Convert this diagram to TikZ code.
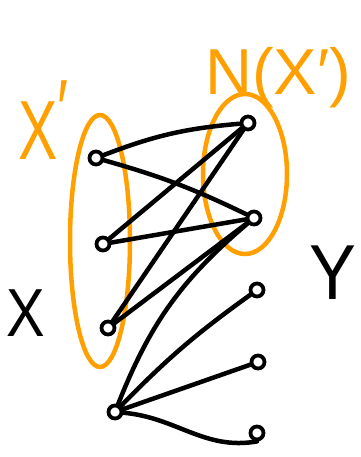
\documentclass[tikz,border=0pt]{standalone}
\usepackage{fontspec}
\setmainfont{Liberation Sans}
\definecolor{hlorange}{RGB}{255,160,0}
\begin{document}
\begin{tikzpicture}[x=1pt,y=-1pt,
  vtx/.style={circle,draw,line width=3.8pt,inner sep=0pt,minimum size=13pt},
  edge/.style={line width=4.5pt,line cap=round},
  grp/.style={draw=hlorange,line width=4.5pt},
  olab/.style={text=hlorange,inner sep=0pt},
  blab/.style={text=black,inner sep=0pt}]
\useasboundingbox (0,0) rectangle (360,457);
% groups
\draw[grp] (100,241) ellipse [x radius=30,y radius=126];
\draw[grp] (245,174) ellipse [x radius=42,y radius=80];
% vertices
\node[vtx] (x1) at (96,158) {};
\node[vtx] (x2) at (103,244) {};
\node[vtx] (x3) at (108,328) {};
\node[vtx] (x4) at (115,412) {};
\node[vtx] (y1) at (248,123) {};
\node[vtx] (y2) at (254,218) {};
\node[vtx] (y3) at (257,290) {};
\node[vtx] (y4) at (258,362) {};
\node[vtx] (y5) at (257,433) {};
% edges
\draw[edge] (x1) to[bend left=8] (y1);
\draw[edge] (x1) to[bend left=5] (y2);
\draw[edge] (x2) -- (y1);
\draw[edge] (x2) -- (y2);
\draw[edge] (x3) -- (y1);
\draw[edge] (x3) -- (y2);
\draw[edge] (x4) to[bend left=14] (y2);
\draw[edge] (x4) to[bend left=5] (y3);
\draw[edge] (x4) -- (y4);
\draw[edge] (x4) to[out=-5,in=190] (y5.south);
% labels
\node[olab,anchor=base west,xscale=0.7,font=\fontsize{84}{84}\selectfont] (lxp) at (18,160) {X\raisebox{.25em}{′}};
\node[olab,anchor=base west,font=\fontsize{65}{65}\selectfont] (lnx) at (205,95) {N(X′)};
\node[blab,xscale=0.85,font=\fontsize{68}{68}\selectfont] (lx) at (26,313) {X};
\node[blab,xscale=0.9,font=\fontsize{78}{78}\selectfont] (ly) at (333,273) {Y};
\end{tikzpicture}
\end{document}
